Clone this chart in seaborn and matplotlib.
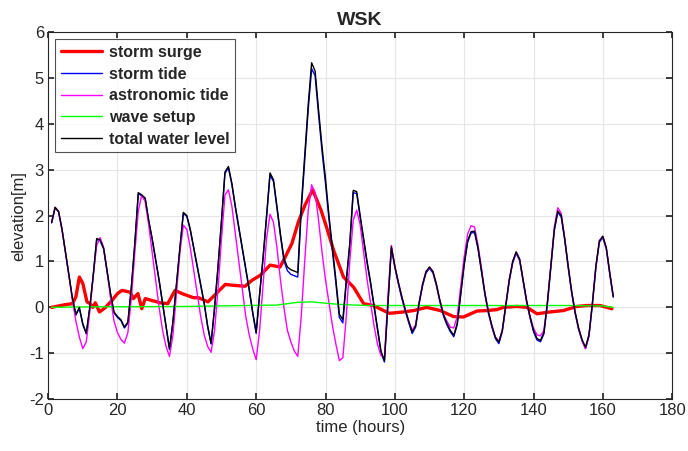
import numpy as np
import pandas as pd
import matplotlib
matplotlib.use('Agg')
import matplotlib.pyplot as plt
import seaborn as sns

# hourly tide curves (hours 1..163)
hours = list(range(1, 164))

total_level = [1.85, 2.18, 2.09, 1.7, 1.2, 0.7, 0.2, -0.15, 0.0, -0.36,
               -0.56, 0.0, 0.7, 1.5, 1.47, 1.29, 0.8, 0.3, -0.1, -0.2,
               -0.27, -0.43, -0.32, 0.45, 1.4, 2.5, 2.45, 2.38, 1.9, 1.5,
               1.05, 0.6, 0.1, -0.4, -0.9, -0.3, 0.5, 1.3, 2.07, 2.0,
               1.7, 1.3, 0.9, 0.5, 0.1, -0.4, -0.78, 0.0, 0.9, 1.9,
               2.95, 3.07, 2.7, 2.2, 1.75, 1.3, 0.85, 0.4, -0.1, -0.54,
               0.3, 1.1, 2.0, 2.93, 2.78, 2.2, 1.6, 1.07, 0.88, 0.82,
               0.79, 0.76, 2.2, 3.3, 4.4, 5.33, 5.15, 4.3, 3.5, 2.8,
               2.0, 1.3, 0.6, -0.15, -0.27, 0.6, 1.4, 2.55, 2.52, 2.0,
               1.5, 1.0, 0.55, 0.05, -0.45, -0.95, -1.16, 0.1, 1.32, 0.9,
               0.55, 0.23, -0.05, -0.3, -0.54, -0.4, 0.1, 0.5, 0.78, 0.88,
               0.78, 0.5, 0.15, -0.15, -0.35, -0.5, -0.61, -0.35, 0.3, 0.95,
               1.45, 1.65, 1.66, 1.3, 0.8, 0.3, -0.1, -0.4, -0.65, -0.76,
               -0.5, 0.05, 0.6, 1.0, 1.21, 1.05, 0.6, 0.15, -0.2, -0.5,
               -0.68, -0.72, -0.55, 0.1, 0.9, 1.7, 2.1, 2.0, 1.5, 0.9,
               0.35, -0.1, -0.45, -0.7, -0.87, -0.6, 0.1, 0.9, 1.45, 1.55,
               1.3, 0.75, 0.24]

storm_tide = [1.84, 2.17, 2.08, 1.69, 1.19, 0.69, 0.19, -0.17, -0.02, -0.38,
              -0.58, -0.02, 0.68, 1.48, 1.45, 1.27, 0.78, 0.28, -0.12, -0.22,
              -0.29, -0.45, -0.34, 0.43, 1.38, 2.48, 2.43, 2.36, 1.88, 1.48,
              1.03, 0.58, 0.08, -0.42, -0.92, -0.32, 0.48, 1.28, 2.05, 1.98,
              1.68, 1.28, 0.88, 0.48, 0.08, -0.42, -0.8, -0.02, 0.87, 1.87,
              2.92, 3.04, 2.67, 2.17, 1.72, 1.27, 0.82, 0.37, -0.13, -0.57,
              0.27, 1.07, 1.96, 2.89, 2.74, 2.16, 1.56, 1.02, 0.8, 0.72,
              0.69, 0.66, 2.1, 3.2, 4.3, 5.2, 5.05, 4.2, 3.4, 2.7,
              1.92, 1.22, 0.52, -0.22, -0.34, 0.54, 1.34, 2.5, 2.48, 1.96,
              1.46, 0.96, 0.51, 0.01, -0.49, -0.99, -1.19, 0.07, 1.29, 0.87,
              0.52, 0.2, -0.08, -0.33, -0.57, -0.43, 0.07, 0.47, 0.75, 0.85,
              0.75, 0.47, 0.12, -0.18, -0.38, -0.53, -0.64, -0.38, 0.27, 0.92,
              1.42, 1.62, 1.63, 1.27, 0.77, 0.27, -0.13, -0.43, -0.68, -0.79,
              -0.53, 0.02, 0.57, 0.97, 1.18, 1.02, 0.57, 0.12, -0.23, -0.53,
              -0.71, -0.75, -0.58, 0.07, 0.87, 1.67, 2.07, 1.97, 1.47, 0.87,
              0.32, -0.13, -0.48, -0.73, -0.9, -0.63, 0.07, 0.87, 1.42, 1.52,
              1.27, 0.72, 0.22]

astro_tide = [1.85, 2.18, 2.09, 1.7, 1.2, 0.7, 0.15, -0.3, -0.65, -0.9,
              -0.75, -0.1, 0.7, 1.35, 1.52, 1.3, 0.8, 0.2, -0.3, -0.55,
              -0.7, -0.78, -0.55, 0.2, 1.2, 2.1, 2.45, 2.3, 1.8, 1.2,
              0.6, 0.0, -0.5, -0.85, -1.07, -0.6, 0.3, 1.2, 1.79, 1.7,
              1.3, 0.8, 0.3, -0.2, -0.6, -0.85, -0.98, -0.5, 0.4, 1.5,
              2.45, 2.56, 2.2, 1.6, 1.0, 0.4, -0.2, -0.6, -0.9, -1.14,
              -0.5, 0.5, 1.5, 2.03, 1.85, 1.3, 0.6, 0.0, -0.5, -0.75,
              -0.95, -1.07, -0.2, 1.0, 2.1, 2.67, 2.5, 1.9, 1.2, 0.6,
              0.1, -0.4, -0.8, -1.16, -1.1, -0.2, 1.0, 1.9, 2.12, 1.8,
              1.2, 0.6, 0.1, -0.4, -0.8, -1.05, -1.1, 0.2, 1.35, 0.9,
              0.55, 0.25, -0.05, -0.3, -0.5, -0.38, 0.1, 0.5, 0.78, 0.87,
              0.78, 0.5, 0.15, -0.15, -0.3, -0.43, -0.45, -0.2, 0.45, 1.1,
              1.6, 1.78, 1.75, 1.35, 0.85, 0.3, -0.1, -0.4, -0.65, -0.74,
              -0.5, 0.05, 0.6, 1.0, 1.2, 1.05, 0.6, 0.15, -0.2, -0.45,
              -0.6, -0.62, -0.5, 0.1, 0.9, 1.75, 2.17, 2.05, 1.5, 0.9,
              0.35, -0.1, -0.45, -0.72, -0.9, -0.6, 0.1, 0.9, 1.45, 1.55,
              1.3, 0.75, 0.24]

# surge and setup: vertices
surge_t = [1, 5, 7, 8, 9, 10, 11.2, 12.1, 12.9, 13.6, 14.8, 16.4, 18.4, 20, 21.3,
           23.7, 24.6, 25.9, 27, 28, 29.9, 32.3, 34.5, 36.6, 38.6, 41.9, 43.4,
           46.1, 48.2, 51.1, 53.5, 56.8, 58.8, 61.2, 64, 66.9, 68.4, 70.3, 72.2,
           74.1, 76.3, 78.7, 80.5, 82.3, 85.2, 88.1, 91, 93.8, 98.4, 102.5,
           105.4, 109.2, 113.1, 116.9, 119.8, 123.7, 126.5, 129.4, 131.3,
           135.2, 138.1, 141, 144.8, 148.6, 152.5, 155.4, 159.2, 162.6]
storm_surge = [0.0, 0.06, 0.08, 0.23, 0.66, 0.52, 0.12, 0.08, 0.0, 0.1, -0.1,
               -0.01, 0.15, 0.3, 0.37, 0.33, 0.19, 0.3, -0.03, 0.19, 0.15, 0.1,
               0.08, 0.37, 0.3, 0.21, 0.21, 0.12, 0.28, 0.5, 0.48, 0.46, 0.59,
               0.7, 0.92, 0.88, 1.1, 1.39, 1.87, 2.23, 2.56, 2.12, 1.7, 1.25,
               0.66, 0.44, 0.08, 0.04, -0.13, -0.1, -0.07, 0.0, -0.07, -0.2,
               -0.21, -0.08, -0.07, -0.05, 0.0, 0.02, 0.0, -0.14, -0.1, -0.07,
               0.02, 0.04, 0.04, -0.03]

setup_t = [1, 10, 40, 57, 66, 72, 76, 80, 85, 92, 120, 150, 160, 163]
wave_setup = [0.0, 0.01, 0.02, 0.04, 0.05, 0.11, 0.12, 0.09, 0.06, 0.04, 0.04,
              0.04, 0.03, 0.0]

sns.set_theme(style='whitegrid')
plt.rcParams['font.family'] = ['Liberation Sans', 'DejaVu Sans']
plt.rcParams['axes.unicode_minus'] = False

fig = plt.figure(figsize=(6.88, 4.51), dpi=100)
ax = fig.add_axes([0.070, 0.115, 0.907, 0.814])

sns.lineplot(x=surge_t, y=storm_surge, color='#ff0000', lw=2.4,
             label='storm surge', ax=ax, sort=False, estimator=None)
sns.lineplot(x=hours, y=storm_tide, color='#0000ff', lw=1.0,
             label='storm tide', ax=ax, sort=False, estimator=None)
sns.lineplot(x=hours, y=astro_tide, color='#ff00ff', lw=1.0,
             label='astronomic tide', ax=ax, sort=False, estimator=None)
sns.lineplot(x=setup_t, y=wave_setup, color='#00ff00', lw=1.0,
             label='wave setup', ax=ax, sort=False, estimator=None)
sns.lineplot(x=hours, y=total_level, color='#000000', lw=1.0,
             label='total water level', ax=ax, sort=False, estimator=None)

ax.set_xlim(0, 180)
ax.set_ylim(-2, 6)
ax.set_xticks(range(0, 181, 20))
ax.set_yticks(range(-2, 7, 1))
ax.set_xlabel('time (hours)', fontsize=12, labelpad=1)
ax.set_ylabel('elevation[m]', fontsize=12, labelpad=2)
ax.set_title('WSK', fontsize=14, fontweight='bold', pad=5)
ax.grid(True, color='#e6e6e6', lw=0.8)
ax.set_facecolor('white')
for s in ax.spines.values():
    s.set_color('#262626')
    s.set_linewidth(0.8)
ax.tick_params(direction='in', length=4, labelsize=12, colors='#262626',
               bottom=True, left=True, top=True, right=True, pad=3)
ax.tick_params(labeltop=False, labelright=False)

leg = ax.legend(loc='upper left', frameon=True, fancybox=False,
                handlelength=2.6, handletextpad=0.4, labelspacing=0.42,
                borderpad=0.35, borderaxespad=0.45,
                prop={'weight': 'bold', 'size': 11.5})
leg.get_frame().set_edgecolor('#262626')
leg.get_frame().set_linewidth(0.8)

fig.savefig('out.png', dpi=100)
